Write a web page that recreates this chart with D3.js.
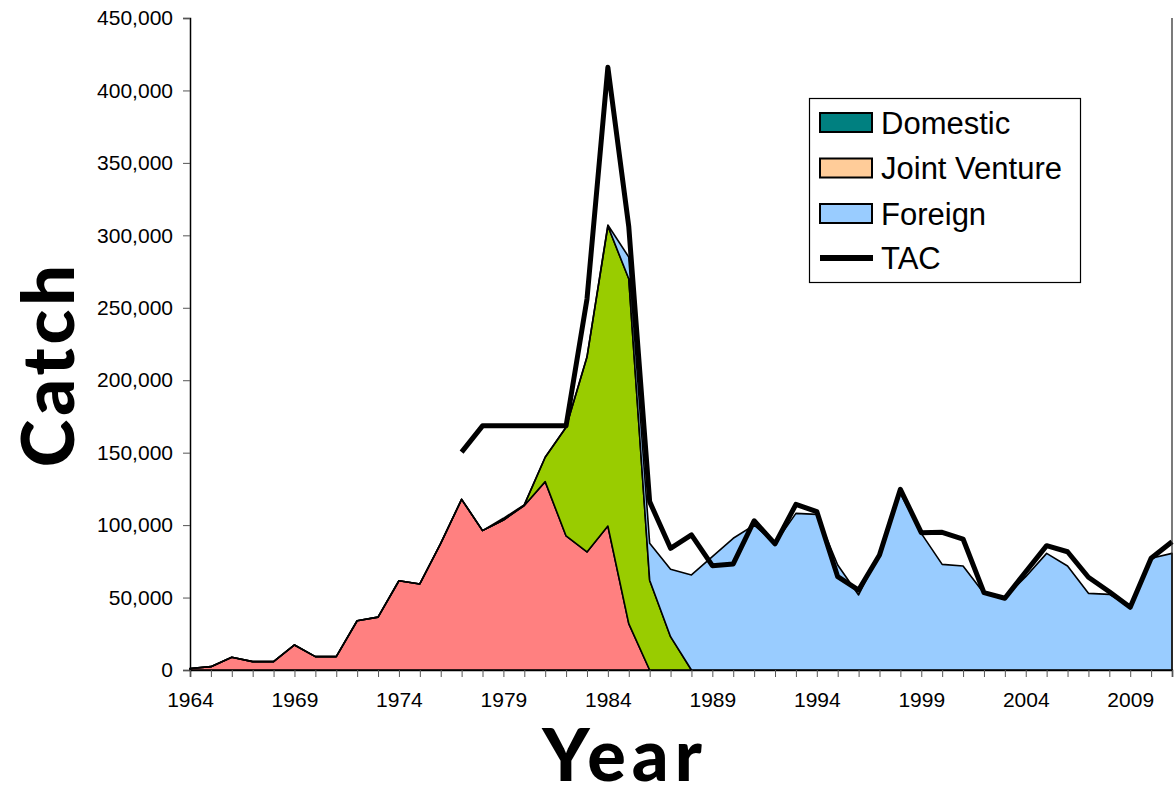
<!DOCTYPE html>
<html>
<head>
<meta charset="utf-8">
<script src="https://cdn.jsdelivr.net/npm/d3@7"></script>
<style>
  html, body { margin: 0; padding: 0; background: #fff; }
  svg { display: block; }
</style>
</head>
<body>
<svg id="chart" width="1175" height="797"></svg>
<script>
// ---- data ----
const years = [1964,1965,1966,1967,1968,1969,1970,1971,1972,1973,1974,1975,1976,1977,1978,1979,
  1980,1981,1982,1983,1984,1985,1986,1987,1988,1989,1990,1991,1992,1993,1994,1995,1996,1997,
  1998,1999,2000,2001,2002,2003,2004,2005,2006,2007,2008,2009,2010,2011];

// bottom (salmon) area
const seriesRed = [1000,2300,8800,5800,5800,17300,9200,9200,34000,36500,61600,59400,87400,117800,96200,103500,
  113500,130000,92500,81500,99400,32000,0,0,0,0,0,0,0,0,0,0,0,0,
  0,0,0,0,0,0,0,0,0,0,0,0,0,0];

// middle (green) area
const seriesGreen = [0,0,0,0,0,0,0,0,0,0,0,0,0,0,0,0,
  500,16800,75000,134500,207000,238000,62000,23000,0,0,0,0,0,0,0,0,0,0,
  0,0,0,0,0,0,0,0,0,0,0,0,0,0];

// top (light blue) area
const seriesBlue = [0,0,0,0,0,0,0,0,0,0,0,0,0,0,0,1200,
  0,0,0,0,700,15000,25400,46500,65600,78200,90900,100000,87400,108100,107400,72500,51800,80500,
  121900,94300,72900,71800,52900,50200,64400,80500,71800,52900,52200,43700,77100,80500];

// TAC line
const tac = [null,null,null,null,null,null,null,null,null,null,null,null,null,150400,168500,168500,
  168500,168500,168500,256000,416000,306000,116200,84000,93200,72000,73200,103000,87000,114300,109300,64400,55200,79400,
  124700,94800,95000,90400,53400,49500,67800,85800,81600,64000,54000,43300,77100,88500];

const yTicks = [0,50000,100000,150000,200000,250000,300000,350000,400000,450000];
const xLabelYears = [1964,1969,1974,1979,1984,1989,1994,1999,2004,2009];

const legendLabels = ["Domestic","Joint Venture","Foreign","TAC"];
const legendColors = ["#008080","#FFCC99","#99CCFF",null];

// ---- layout ----
const svg = d3.select("#chart");
const plotL = 190, plotR = 1172, plotT = 18, plotB = 670;

const x = d3.scaleLinear().domain([1964, 2011]).range([plotL, plotR]);
const y = d3.scaleLinear().domain([0, 450000]).range([plotB, plotT]);

const rows = years.map((yr, i) => ({year: yr, red: seriesRed[i], green: seriesGreen[i], blue: seriesBlue[i]}));
const keys = ["red","green","blue"];
const fills = {red: "#FF8080", green: "#99CC00", blue: "#99CCFF"};
const stacked = d3.stack().keys(keys)(rows);

const area = d3.area()
  .x(d => x(d.data.year))
  .y0(d => y(d[0]))
  .y1(d => y(d[1]));

svg.append("g").selectAll("path")
  .data(stacked)
  .join("path")
  .attr("d", area)
  .attr("fill", d => fills[d.key])
  .attr("stroke", "#000")
  .attr("stroke-width", 1.6)
  .attr("stroke-linejoin", "round");

// TAC
const tacData = years.map((yr, i) => ({year: yr, v: tac[i]}));
const line = d3.line()
  .defined(d => d.v !== null)
  .x(d => x(d.year))
  .y(d => y(d.v));
svg.append("path")
  .datum(tacData)
  .attr("d", line)
  .attr("fill", "none")
  .attr("stroke", "#000")
  .attr("stroke-width", 5)
  .attr("stroke-linejoin", "round")
  .attr("stroke-linecap", "butt");

// right border of plot area
svg.append("line")
  .attr("x1", plotR).attr("x2", plotR).attr("y1", plotT).attr("y2", plotB)
  .attr("stroke", "#222").attr("stroke-width", 1.2);

// ---- axes ----
const yAxis = d3.axisLeft(y)
  .tickValues(yTicks)
  .tickSize(7)
  .tickPadding(10)
  .tickFormat(d3.format(","));
const gy = svg.append("g").attr("transform", `translate(${plotL},0)`).call(yAxis);
gy.select(".domain").attr("stroke", "#000").attr("stroke-width", 1.5);
gy.selectAll(".tick line").attr("stroke", "#555");
gy.selectAll("text").attr("font-family", "'Liberation Sans', Arial, sans-serif")
  .attr("font-size", 21).attr("fill", "#000");

const xAxis = d3.axisBottom(x)
  .tickValues(years)
  .tickSize(7)
  .tickPadding(15)
  .tickFormat(d => xLabelYears.includes(d) ? String(d) : "");
const gx = svg.append("g").attr("transform", `translate(0,${plotB})`).call(xAxis);
gx.select(".domain").attr("stroke", "#000").attr("stroke-width", 1.5);
gx.selectAll(".tick line").attr("stroke", "#555");
gx.selectAll("text").attr("font-family", "'Liberation Sans', Arial, sans-serif")
  .attr("font-size", 21).attr("fill", "#000");

// ---- axis titles ----
svg.append("text")
  .attr("transform", "translate(74,364) rotate(-90)")
  .attr("text-anchor", "middle")
  .attr("font-family", "Lato, 'DejaVu Sans', sans-serif")
  .attr("font-weight", 900)
  .attr("font-size", 72)
  .attr("letter-spacing", 4)
  .attr("fill", "#000")
  .text("Catch");

svg.append("text")
  .attr("x", 625).attr("y", 781)
  .attr("text-anchor", "middle")
  .attr("font-family", "Lato, 'DejaVu Sans', sans-serif")
  .attr("font-weight", 900)
  .attr("font-size", 72)
  .attr("letter-spacing", 6)
  .attr("fill", "#000")
  .text("Year");

// ---- legend ----
const lg = svg.append("g");
lg.append("rect")
  .attr("x", 809.5).attr("y", 98.5).attr("width", 271).attr("height", 184)
  .attr("fill", "#fff").attr("stroke", "#000").attr("stroke-width", 1.2);
const rowY = [123, 168.5, 214, 258];
legendLabels.forEach((lab, i) => {
  if (legendColors[i]) {
    lg.append("rect")
      .attr("x", 820).attr("y", rowY[i] - 10).attr("width", 52).attr("height", 19)
      .attr("fill", legendColors[i]).attr("stroke", "#000").attr("stroke-width", 2);
  } else {
    lg.append("line")
      .attr("x1", 820).attr("x2", 873).attr("y1", rowY[i]).attr("y2", rowY[i])
      .attr("stroke", "#000").attr("stroke-width", 6);
  }
  lg.append("text")
    .attr("x", 881).attr("y", rowY[i] + 10.5)
    .attr("font-family", "'Liberation Sans', Arial, sans-serif")
    .attr("font-size", 31)
    .attr("fill", "#000")
    .text(lab);
});
</script>
</body>
</html>
